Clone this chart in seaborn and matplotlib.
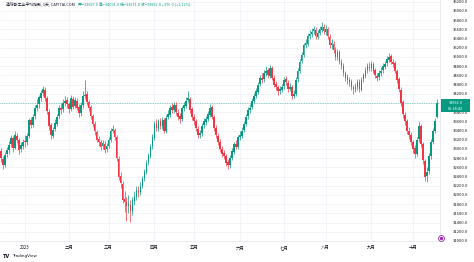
import numpy as np
import pandas as pd
import matplotlib
matplotlib.use("Agg")
import matplotlib.pyplot as plt
import seaborn as sns
from matplotlib.ticker import MultipleLocator, FuncFormatter
from matplotlib.patches import Rectangle

# ---------------- data ----------------
start_date = "2022-12-15"
open_ = [32950, 32790, 32660, 32880, 32970, 33100, 33230, 33030, 33290, 33200, 32990, 33070,
         33160, 33150, 33270, 33630, 33510, 33710, 33880, 33970, 34110, 34220, 34290, 34110, 33810, 33510, 33290, 33430, 33550, 33710, 33890, 33860, 33990, 34060,
         33970, 33870, 34090, 33930, 34050, 33910, 33770, 33960, 34140, 34190, 34010, 33910, 33710, 33550, 33370, 33210, 33140, 33060, 33110, 32990,
         33070, 33190, 33400, 33410, 33260, 32790, 32410, 32240, 31910, 31840, 31760, 31790, 31660, 31870, 31960, 32090, 32060, 32190, 32360, 32490, 32710, 32840, 33060,
         33240, 33560, 33440, 33610, 33490, 33630, 33390, 33690, 33740, 33910, 33840, 33960, 33790, 33710, 33640, 33890, 33940, 34060, 34090, 33860,
         33690, 33610, 33440, 33310, 33340, 33510, 33590, 33660, 33740, 33910, 33690, 33460, 33290, 33160, 32990, 32910, 32840, 32710, 32640, 32810, 32940, 33110, 33040,
         33260, 33290, 33410, 33540, 33710, 33840, 33910, 34040, 34160, 34240, 34410, 34540, 34510, 34640, 34710, 34590, 34760, 34540, 34410, 34340, 34260, 34290,
         34360, 34510, 34440, 34310, 34340, 34160, 34190, 34510, 34690, 34910, 35040, 35260, 35290, 35460, 35490, 35560, 35590, 35440, 35530, 35590, 35660,
         35550, 35610, 35440, 35260, 35290, 35160, 34990, 35110, 34890, 34810, 34640, 34560, 34490, 34460, 34340, 34310, 34340, 34460, 34290, 34510, 34590, 34710, 34790,
         34760, 34840, 34710, 34590, 34560, 34640, 34710, 34790, 34860, 34940, 35010, 34890, 34860, 34690, 34510, 34290, 34010, 33740, 33610, 33390, 33310,
         33140, 33010, 32890, 33210, 33490, 33110, 32740, 32410, 32510, 32840, 33160, 33390, 33697]
high = [33010, 32850, 32930, 33050, 33180, 33300, 33280, 33380, 33350, 33240, 33160, 33220,
        33300, 33350, 33680, 33700, 33760, 33950, 34080, 34180, 34290, 34370, 34340, 34160, 33870, 33560, 33480, 33640, 33760, 33960, 33990, 34080, 34160, 34120,
        34020, 34170, 34140, 34120, 34110, 33980, 34010, 34250, 34500, 34260, 34070, 33960, 33760, 33600, 33420, 33280, 33200, 33190, 33170, 33130,
        33260, 33450, 33520, 33460, 33300, 32850, 32490, 32300, 32080, 31950, 31990, 31900, 31960, 32080, 32190, 32200, 32280, 32420, 32560, 32760, 32920, 33100, 33320,
        33610, 33640, 33660, 33680, 33690, 33680, 33740, 33850, 33960, 34000, 34030, 34010, 33860, 33780, 33930, 34020, 34120, 34260, 34130, 33910,
        33760, 33660, 33500, 33420, 33560, 33670, 33720, 33820, 33980, 33950, 33740, 33520, 33350, 33210, 33070, 32980, 32890, 32790, 32860, 33010, 33160, 33190, 33310,
        33380, 33470, 33610, 33760, 33910, 33980, 34110, 34220, 34320, 34460, 34610, 34640, 34710, 34800, 34760, 34830, 34800, 34600, 34480, 34400, 34370, 34420,
        34560, 34580, 34500, 34430, 34390, 34280, 34560, 34760, 34960, 35110, 35310, 35380, 35510, 35580, 35620, 35680, 35640, 35590, 35670, 35760, 35710,
        35700, 35660, 35490, 35380, 35340, 35210, 35170, 35150, 34960, 34860, 34700, 34630, 34560, 34520, 34400, 34430, 34520, 34510, 34560, 34660, 34770, 34870, 34880,
        34920, 34890, 34760, 34650, 34720, 34770, 34860, 34920, 35010, 35080, 35060, 34960, 34910, 34740, 34560, 34340, 34060, 33810, 33660, 33470, 33370,
        33200, 33080, 33260, 33590, 33540, 33160, 32790, 32600, 32910, 33210, 33460, 33680, 34091]
low = [32720, 32560, 32600, 32820, 32900, 33040, 32930, 32990, 33120, 32900, 32930, 33000,
       33050, 33080, 33230, 33450, 33470, 33660, 33820, 33900, 34050, 34150, 34040, 33760, 33420, 33220, 33240, 33380, 33500, 33650, 33760, 33810, 33930, 33900,
       33780, 33830, 33860, 33880, 33840, 33700, 33720, 33900, 34080, 33960, 33830, 33650, 33470, 33310, 33140, 33070, 32980, 33000, 32920, 32930,
       33010, 33150, 33340, 33190, 32740, 32330, 32150, 31820, 31620, 31430, 31600, 31420, 31560, 31780, 31900, 31960, 32000, 32150, 32300, 32450, 32660, 32800, 33000,
       33200, 33380, 33400, 33430, 33440, 33340, 33350, 33640, 33700, 33790, 33780, 33740, 33630, 33560, 33600, 33830, 33890, 34010, 33790, 33630,
       33520, 33380, 33230, 33240, 33290, 33450, 33530, 33600, 33700, 33640, 33390, 33240, 33080, 32930, 32830, 32770, 32630, 32560, 32590, 32760, 32890, 32990, 33000,
       33190, 33240, 33360, 33500, 33660, 33790, 33860, 33990, 34100, 34190, 34360, 34430, 34460, 34590, 34540, 34550, 34490, 34340, 34270, 34180, 34190, 34230,
       34310, 34380, 34230, 34250, 34090, 34100, 34150, 34460, 34650, 34860, 35000, 35200, 35240, 35400, 35430, 35500, 35390, 35380, 35470, 35540, 35490,
       35480, 35390, 35190, 35180, 35090, 34940, 34930, 34840, 34730, 34590, 34480, 34420, 34360, 34280, 34200, 34240, 34290, 34230, 34250, 34460, 34540, 34660, 34690,
       34700, 34640, 34540, 34480, 34500, 34590, 34660, 34740, 34800, 34890, 34840, 34780, 34640, 34430, 34230, 33930, 33680, 33530, 33330, 33220, 33080,
       32920, 32800, 32850, 33160, 33040, 32680, 32300, 32280, 32460, 32790, 33110, 33350, 33671]
close = [32800, 32650, 32870, 32980, 33090, 33240, 33020, 33300, 33190, 32980, 33080, 33150,
         33140, 33280, 33620, 33520, 33700, 33890, 33960, 34120, 34210, 34300, 34100, 33820, 33500, 33300, 33420, 33560, 33700, 33900, 33850, 34000, 34050, 33980,
         33860, 34100, 33920, 34060, 33900, 33780, 33950, 34150, 34180, 34020, 33900, 33720, 33540, 33380, 33200, 33150, 33050, 33120, 32980, 33060,
         33200, 33390, 33420, 33250, 32800, 32400, 32250, 31900, 31850, 31750, 31800, 31650, 31880, 31950, 32100, 32050, 32200, 32350, 32500, 32700, 32850, 33050, 33250,
         33550, 33450, 33600, 33500, 33620, 33400, 33680, 33750, 33900, 33850, 33950, 33800, 33700, 33650, 33880, 33950, 34050, 34100, 33850, 33700,
         33600, 33450, 33300, 33350, 33500, 33600, 33650, 33750, 33900, 33700, 33450, 33300, 33150, 33000, 32900, 32850, 32700, 32650, 32800, 32950, 33100, 33050, 33250,
         33300, 33400, 33550, 33700, 33850, 33900, 34050, 34150, 34250, 34400, 34550, 34500, 34650, 34700, 34600, 34750, 34550, 34400, 34350, 34250, 34300, 34350,
         34500, 34450, 34300, 34350, 34150, 34200, 34500, 34700, 34900, 35050, 35250, 35300, 35450, 35500, 35550, 35600, 35450, 35520, 35600, 35650, 35560,
         35600, 35450, 35250, 35300, 35150, 35000, 35100, 34900, 34800, 34650, 34550, 34500, 34450, 34350, 34300, 34350, 34450, 34300, 34500, 34600, 34700, 34800, 34750,
         34850, 34700, 34600, 34550, 34650, 34700, 34800, 34850, 34950, 35000, 34900, 34850, 34700, 34500, 34300, 34000, 33750, 33600, 33400, 33300, 33150,
         33000, 32900, 33200, 33500, 33100, 32750, 32400, 32500, 32850, 33150, 33400, 33616, 33992]
month_labels = ["2023", "二月", "三月", "四月", "五月", "六月", "七月", "八月", "九月", "十月"]
symbol_title = "道琼斯工业平均指数, 1天, CAPITALCOM"
countdown = "05:18:42"

UP = "#089981"
DOWN = "#F23645"
TXT = "#131722"
GRID = "#F0F3FA"

# ---------------- theme ----------------
sns.set_theme(style="white")
plt.rcParams["font.family"] = ["Noto Sans CJK SC", "DejaVu Sans"]

W, H = 474, 262
fig = plt.figure(figsize=(W / 100, H / 100), dpi=100)
fig.patch.set_facecolor("white")
ax = fig.add_axes([0, 21 / H, 440 / W, 241 / H])
ax.set_facecolor("white")

df = pd.DataFrame({"date": pd.bdate_range(start_date, periods=len(close)),
                   "open": open_, "high": high, "low": low, "close": close})
df["i"] = np.arange(len(df))
df["up"] = df["close"] >= df["open"]
df["body_lo"] = df[["open", "close"]].min(axis=1)
df["body_h"] = (df["close"] - df["open"]).abs().clip(lower=25)

ax.yaxis.set_major_locator(MultipleLocator(200))
ax.set_ylim(30998, 36237)
ax.set_xlim(-0.55, 220.5)

month_start = df.groupby([df["date"].dt.year, df["date"].dt.month])["i"].min()
month_start = month_start[month_start.index.get_level_values(0) == 2023]
ax.set_xticks(month_start.values[:len(month_labels)])
ax.set_xticklabels(month_labels)
ax.grid(True, color=GRID, lw=0.6)
ax.set_axisbelow(True)

# candles: one pass per colour
for flag, col in [(True, UP), (False, DOWN)]:
    sub = df[df["up"] == flag]
    ax.vlines(sub["i"].to_numpy(), sub["low"].to_numpy(), sub["high"].to_numpy(),
              colors=col, lw=0.5, zorder=2)
    ax.bar(sub["i"].to_numpy(), sub["body_h"].to_numpy(), bottom=sub["body_lo"].to_numpy(),
           width=0.82, color=col, edgecolor="none", linewidth=0, zorder=3)

# last price line
last = float(df["close"].iloc[-1])
ax.axhline(last, color=UP, lw=0.5, ls=(0, (1, 1.5)), alpha=0.8, zorder=1)

# axes styling
ax.yaxis.tick_right()
ax.yaxis.set_major_formatter(FuncFormatter(lambda v, p: "" if abs(v - last) < 120 else f"{v:.1f}"))
ax.tick_params(axis="y", length=0, pad=9.5, labelsize=3.0, labelcolor=TXT)
ax.tick_params(axis="x", length=0, pad=3.0, labelsize=3.2, labelcolor=TXT)
for s in ["left", "top"]:
    ax.spines[s].set_visible(False)
for s in ["right", "bottom"]:
    ax.spines[s].set_color("#E0E3EB")
    ax.spines[s].set_linewidth(0.5)

# price box
box_y = ax.transData.transform((0, last))[1]          # display px from bottom
top_px = box_y + 4.0
fig.add_artist(Rectangle((441 / W, (top_px - 13) / H), 29 / W, 13 / H,
                         transform=fig.transFigure, fc=UP, ec="none", zorder=9))
fig.text(455.5 / W, (top_px - 3.3) / H, f"{last:.1f}", ha="center", va="center",
         fontsize=2.8, color="white", zorder=10)
fig.text(455.5 / W, (top_px - 9.3) / H, countdown, ha="center", va="center",
         fontsize=2.8, color="white", zorder=10)

# title / legend
prev = float(df["close"].iloc[-2])
chg = last - prev
t1 = fig.text(6 / W, 1 - 5 / H, symbol_title, fontsize=2.8, color=TXT, va="center", ha="left")
ohlc = (f"开={df['open'].iloc[-1]:.1f} 高={df['high'].iloc[-1]:.1f} 低={df['low'].iloc[-1]:.1f} "
        f"收={last:.1f} {chg:+.1f} ({chg / prev * 100:+.2f}%)")
ax.annotate(ohlc, xy=(1, 0.5), xycoords=t1, xytext=(2, 0), textcoords="offset points",
            va="center", ha="left", fontsize=2.8, color=UP, annotation_clip=False)

# event marker
ax.plot([440.7 / W], [1 - 238.3 / H], transform=fig.transFigure, marker="o", ms=4.2,
        mfc="white", mec="#9C27B0", mew=0.6, clip_on=False, zorder=10)
ax.plot([440.7 / W], [1 - 238.3 / H], transform=fig.transFigure, marker="o", ms=1.4,
        mfc="#9C27B0", mec="#9C27B0", clip_on=False, zorder=11)

# TradingView logo
fig.text(3 / W, 6 / H, "TV", fontsize=3.6, fontweight="bold", color=TXT, va="center", ha="left",
         family="DejaVu Sans")
fig.text(12 / W, 6 / H, "TradingView", fontsize=3.0, color=TXT, va="center", ha="left",
         family="DejaVu Sans")

fig.savefig("out.png", dpi=100, facecolor="white")
